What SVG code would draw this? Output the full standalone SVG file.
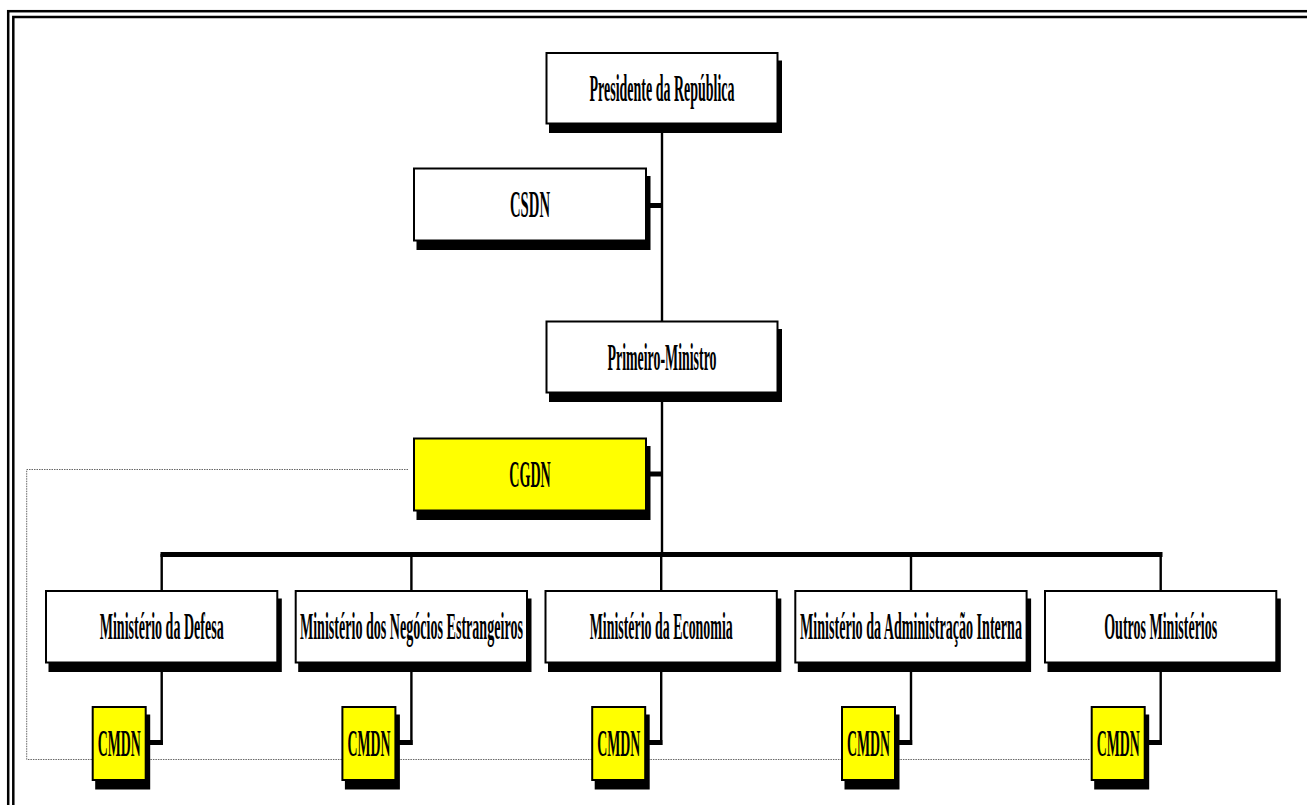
<svg xmlns="http://www.w3.org/2000/svg" width="1307" height="805" viewBox="0 0 1307 805">
<defs>
<style>
.sh{fill:#000}
.bx{fill:#fff;stroke:#000;stroke-width:2}
.yl{fill:#ffff00;stroke:#000;stroke-width:2}
.tx{font-family:"Liberation Serif","Times New Roman",serif;font-weight:bold;font-size:37px;fill:#000;text-anchor:middle}
.thin{fill:none;stroke:#000;stroke-width:2.4}
.thick{fill:none;stroke:#000;stroke-width:5}
.dot{fill:none;stroke:#666;stroke-width:1;stroke-dasharray:1.5 1}
.frame{fill:none;stroke:#000;stroke-width:2.5}
</style>
</defs>
<rect width="1307" height="805" fill="#fff"/>
<rect class="frame" x="8.2" y="11.2" width="1400" height="900"/>
<rect class="frame" x="13.3" y="17" width="1400" height="900"/>

<g id="connectors">
<path class="dot" d="M408 469.5 H26.7 V759.5 H1090"/>
<path class="thin" d="M662 124 V555"/>
<path class="thick" d="M647 205.5 H663"/>
<path class="thick" d="M647 474 H663"/>
<path class="thick" d="M160.5 554.5 H1162.5"/>
<path class="thin" d="M161.7 554 V590 M411.4 554 V590 M661.2 554 V590 M911 554 V590 M1160.7 554 V590"/>
<path class="thin" d="M161.7 663 V745 M411.4 663 V745 M661.2 663 V745 M911 663 V745 M1160.7 663 V745"/>
<path class="thick" d="M146.7 742.5 H162.9 M396.4 742.5 H412.6 M646.2 742.5 H662.4 M896 742.5 H912.2 M1145.7 742.5 H1161.9"/>
</g>

<g id="presidente">
<rect class="sh" x="549" y="60.5" width="233" height="72.5"/>
<rect class="bx" x="546.5" y="53" width="231" height="70.5"/>
<text class="tx" transform="translate(662 100.5) scale(0.38 1)" x="0" y="0" textLength="381.6" lengthAdjust="spacingAndGlyphs">Presidente da República</text>
</g>

<g id="csdn">
<rect class="sh" x="416.5" y="176" width="234" height="74"/>
<rect class="bx" x="414" y="168.5" width="232" height="72"/>
<text class="tx" transform="translate(530 217) scale(0.38 1)" x="0" y="0" textLength="105.3" lengthAdjust="spacingAndGlyphs">CSDN</text>
</g>

<g id="primeiro-ministro">
<rect class="sh" x="549" y="329" width="233" height="73"/>
<rect class="bx" x="546.5" y="321.5" width="231" height="71"/>
<text class="tx" transform="translate(662 369.5) scale(0.38 1)" x="0" y="0" textLength="286.8" lengthAdjust="spacingAndGlyphs">Primeiro-Ministro</text>
</g>

<g id="cgdn">
<rect class="sh" x="416.5" y="446" width="234" height="74"/>
<rect class="yl" x="414" y="438.5" width="232" height="72"/>
<text class="tx" transform="translate(530 487) scale(0.38 1)" x="0" y="0" textLength="109.2" lengthAdjust="spacingAndGlyphs">CGDN</text>
</g>

<g id="min-defesa">
<rect class="sh" x="48.5" y="598.5" width="233.3" height="73.5"/>
<rect class="bx" x="46" y="591" width="231.3" height="71.5"/>
<text class="tx" transform="translate(161.7 639) scale(0.38 1)" x="0" y="0" textLength="326.3" lengthAdjust="spacingAndGlyphs">Ministério da Defesa</text>
</g>

<g id="min-negocios-estrangeiros">
<rect class="sh" x="298.2" y="598.5" width="233.3" height="73.5"/>
<rect class="bx" x="295.7" y="591" width="231.3" height="71.5"/>
<text class="tx" transform="translate(411.4 639) scale(0.38 1)" x="0" y="0" textLength="586.8" lengthAdjust="spacingAndGlyphs">Ministério dos Negócios Estrangeiros</text>
</g>

<g id="min-economia">
<rect class="sh" x="548" y="598.5" width="233.3" height="73.5"/>
<rect class="bx" x="545.5" y="591" width="231.3" height="71.5"/>
<text class="tx" transform="translate(661.2 639) scale(0.38 1)" x="0" y="0" textLength="376.3" lengthAdjust="spacingAndGlyphs">Ministério da Economia</text>
</g>

<g id="min-administracao-interna">
<rect class="sh" x="797.8" y="598.5" width="233.3" height="73.5"/>
<rect class="bx" x="795.3" y="591" width="231.3" height="71.5"/>
<text class="tx" transform="translate(911 639) scale(0.38 1)" x="0" y="0" textLength="584.2" lengthAdjust="spacingAndGlyphs">Ministério da Administração Interna</text>
</g>

<g id="outros-ministerios">
<rect class="sh" x="1047.5" y="598.5" width="233.3" height="73.5"/>
<rect class="bx" x="1045" y="591" width="231.3" height="71.5"/>
<text class="tx" transform="translate(1160.7 639) scale(0.38 1)" x="0" y="0" textLength="297.4" lengthAdjust="spacingAndGlyphs">Outros Ministérios</text>
</g>

<g id="cmdn-1">
<rect class="sh" x="95.2" y="714.5" width="55" height="75"/>
<rect class="yl" x="92.7" y="707" width="53" height="73"/>
<text class="tx" transform="translate(119.2 756) scale(0.38 1)" x="0" y="0" textLength="113.2" lengthAdjust="spacingAndGlyphs">CMDN</text>
</g>
<g id="cmdn-2">
<rect class="sh" x="344.9" y="714.5" width="55" height="75"/>
<rect class="yl" x="342.4" y="707" width="53" height="73"/>
<text class="tx" transform="translate(368.9 756) scale(0.38 1)" x="0" y="0" textLength="113.2" lengthAdjust="spacingAndGlyphs">CMDN</text>
</g>
<g id="cmdn-3">
<rect class="sh" x="594.7" y="714.5" width="55" height="75"/>
<rect class="yl" x="592.2" y="707" width="53" height="73"/>
<text class="tx" transform="translate(618.7 756) scale(0.38 1)" x="0" y="0" textLength="113.2" lengthAdjust="spacingAndGlyphs">CMDN</text>
</g>
<g id="cmdn-4">
<rect class="sh" x="844.5" y="714.5" width="55" height="75"/>
<rect class="yl" x="842" y="707" width="53" height="73"/>
<text class="tx" transform="translate(868.5 756) scale(0.38 1)" x="0" y="0" textLength="113.2" lengthAdjust="spacingAndGlyphs">CMDN</text>
</g>
<g id="cmdn-5">
<rect class="sh" x="1094.2" y="714.5" width="55" height="75"/>
<rect class="yl" x="1091.7" y="707" width="53" height="73"/>
<text class="tx" transform="translate(1118.2 756) scale(0.38 1)" x="0" y="0" textLength="113.2" lengthAdjust="spacingAndGlyphs">CMDN</text>
</g>
</svg>
